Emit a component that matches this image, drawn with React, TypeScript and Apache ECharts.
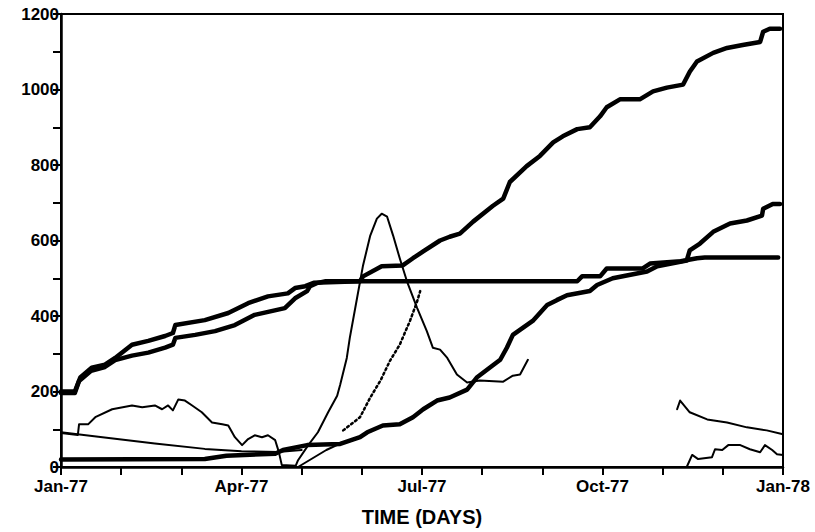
import React, { useEffect, useRef } from "react";
import * as echarts from "echarts";

// x = months since Jan-77 (equal month spacing), y = value
const monthLabels = ["Jan-77", "Apr-77", "Jul-77", "Oct-77", "Jan-78"];
const xTitle = "TIME (DAYS)";

const seriesTop: [number, number][] = [
  [0, 200], [0.23, 200], [0.32, 237], [0.51, 263], [0.73, 271], [0.9, 289], [1.18, 324],
  [1.45, 334], [1.73, 347], [1.86, 355], [1.9, 376], [2.39, 389], [2.78, 408], [3.11, 434],
  [3.44, 452], [3.77, 460], [3.89, 474], [4.06, 479], [4.2, 488], [4.97, 492], [5.02, 505],
  [5.33, 532], [5.68, 534], [5.85, 553], [6.02, 571], [6.3, 600], [6.46, 610], [6.63, 618],
  [6.85, 650], [7.18, 692], [7.35, 711], [7.46, 755], [7.74, 797], [7.96, 824], [8.18, 860],
  [8.34, 876], [8.58, 895], [8.79, 900], [8.96, 929], [9.07, 953], [9.29, 974], [9.62, 974],
  [9.84, 995], [10.07, 1005], [10.34, 1013], [10.45, 1047], [10.57, 1074], [10.84, 1097],
  [11.07, 1110], [11.33, 1118], [11.62, 1126], [11.67, 1153], [11.78, 1161], [11.95, 1161],
];

const seriesPlateau: [number, number][] = [
  [0, 196], [0.23, 196], [0.3, 228], [0.5, 255], [0.73, 265], [0.9, 283], [1.18, 295],
  [1.45, 303], [1.73, 316], [1.86, 324], [1.9, 342], [2.23, 350], [2.56, 360], [2.89, 376],
  [3.22, 403], [3.72, 421], [3.89, 447], [4.09, 466], [4.14, 479], [4.25, 487], [4.4, 492],
  [8.58, 492], [8.66, 505], [8.96, 505], [9.07, 526], [9.67, 526], [9.79, 539], [10.3, 545],
  [10.57, 553], [10.7, 555], [11.92, 555],
];

const seriesLower: [number, number][] = [
  [0, 20], [2.39, 21], [2.75, 30], [3.56, 35], [3.69, 45], [4.09, 58], [4.64, 61], [4.97, 79],
  [5.09, 92], [5.35, 110], [5.63, 113], [5.85, 132], [6.02, 153], [6.25, 176], [6.46, 184],
  [6.75, 205], [6.91, 237], [7.3, 284], [7.41, 316], [7.51, 350], [7.84, 387], [8.08, 429],
  [8.24, 442], [8.41, 455], [8.79, 466], [8.91, 482], [9.17, 500], [9.74, 518], [9.91, 532],
  [10.4, 547], [10.45, 574], [10.62, 592], [10.84, 623], [11.12, 645], [11.4, 653],
  [11.65, 666], [11.67, 684], [11.83, 697], [11.95, 697],
];

const seriesPeakLeft: [number, number][] = [
  [0, 90], [0.28, 85], [0.3, 113], [0.45, 113], [0.57, 132], [0.85, 153], [1.18, 163],
  [1.35, 158], [1.56, 163], [1.68, 153], [1.78, 163], [1.86, 150], [1.95, 179], [2.06, 176],
  [2.18, 163], [2.34, 145], [2.51, 118], [2.68, 113], [2.78, 110], [2.89, 79], [3.01, 58],
  [3.11, 74], [3.22, 84], [3.34, 79], [3.44, 84], [3.56, 71], [3.62, 40], [3.67, 5],
  [3.9, 3], [3.94, 18], [4.11, 58], [4.27, 92], [4.44, 145], [4.59, 189], [4.64, 218],
  [4.75, 289], [4.8, 342], [4.92, 447], [5.02, 534], [5.14, 613], [5.25, 658], [5.33, 671],
  [5.42, 663], [5.52, 613], [5.63, 553], [5.75, 492], [5.92, 421], [6.08, 360], [6.18, 316],
  [6.3, 311], [6.42, 289], [6.58, 245], [6.75, 224], [6.96, 229], [7.35, 226], [7.51, 242],
  [7.63, 245], [7.76, 284],
];

const seriesPeakRight: [number, number][] = [
  [10.4, 0], [10.49, 32], [10.59, 21], [10.82, 26], [10.87, 47], [10.99, 45], [11.09, 58],
  [11.29, 58], [11.45, 47], [11.62, 39], [11.7, 58], [11.82, 45], [11.9, 34], [12, 32],
];

const seriesDeclineLeft: [number, number][] = [
  [0, 92], [0.62, 80], [1.56, 62], [2.39, 48], [3.0, 42], [3.6, 40], [4.0, 45],
];

const seriesDeclineRight: [number, number][] = [
  [10.24, 153], [10.29, 176], [10.45, 145], [10.74, 126], [11.07, 118], [11.4, 105],
  [11.73, 97], [12, 87],
];

const seriesRiseSolid: [number, number][] = [
  [3.94, 0], [4.41, 45], [4.69, 66],
];

const seriesRiseDotted: [number, number][] = [
  [4.69, 97], [4.82, 113], [4.97, 132], [5.14, 184], [5.31, 229], [5.47, 282], [5.63, 324],
  [5.8, 387], [5.92, 439], [5.97, 466],
];

const FONT = "'Liberation Sans', Arial, sans-serif";

function line(data: [number, number][], width: number, type: any = "solid") {
  return {
    type: "line",
    data,
    showSymbol: false,
    symbol: "none",
    smooth: false,
    lineStyle: { color: "#000", width, type, cap: "round", join: "round" },
    silent: true,
  };
}

export default function App() {
  const ref = useRef<HTMLDivElement>(null);
  useEffect(() => {
    document.body.style.margin = "0";
    const chart = echarts.init(ref.current!, undefined, { renderer: "svg" });
    chart.setOption({
      animation: false,
      backgroundColor: "#fff",
      grid: {
        left: 61, right: 32, top: 14, bottom: 62,
        show: true, borderColor: "#000", borderWidth: 2, backgroundColor: "transparent",
      },
      xAxis: {
        type: "value", min: 0, max: 12, interval: 1,
        name: xTitle, nameLocation: "middle", nameGap: 40,
        nameTextStyle: { color: "#000", fontFamily: FONT, fontWeight: "bold", fontSize: 20 },
        axisLine: { show: true, lineStyle: { color: "#000", width: 2.5 } },
        axisTick: { show: true, inside: false, length: 8, lineStyle: { color: "#000", width: 2 } },
        axisLabel: {
          color: "#000", fontFamily: FONT, fontWeight: "bold", fontSize: 17, margin: 11,
          formatter: (v: number) => (Math.round(v) % 3 === 0 ? monthLabels[Math.round(v) / 3] : ""),
        },
        splitLine: { show: false },
      },
      yAxis: {
        type: "value", min: 0, max: 1200, interval: 100,
        axisLine: { show: true, lineStyle: { color: "#000", width: 2.5 } },
        axisTick: { show: true, inside: false, length: 8, lineStyle: { color: "#000", width: 2 } },
        axisLabel: {
          color: "#000", fontFamily: FONT, fontWeight: "bold", fontSize: 17, margin: 2,
          formatter: (v: number) => (v % 200 === 0 ? String(v) : ""),
        },
        splitLine: { show: false },
      },
      series: [
        line(seriesTop, 4.5),
        line(seriesPlateau, 4.5),
        line(seriesLower, 4.5),
        line(seriesPeakLeft, 2),
        line(seriesPeakRight, 2),
        line(seriesDeclineLeft, 2),
        line(seriesDeclineRight, 2),
        line(seriesRiseSolid, 2),
        line(seriesRiseDotted, 2.5, [2, 3]),
      ],
    });
    return () => chart.dispose();
  }, []);
  return <div ref={ref} style={{ width: 815, height: 532 }} />;
}
